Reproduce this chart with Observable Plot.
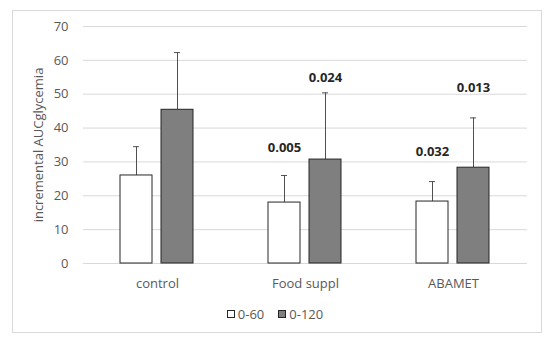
<!DOCTYPE html>
<html><head><meta charset="utf-8">
<script src="https://cdn.jsdelivr.net/npm/d3@7"></script>
<script src="https://cdn.jsdelivr.net/npm/@observablehq/plot@0.6"></script>
<style>
body{margin:0;background:#fff;font-family:"Open Sans",sans-serif;}
#frame{position:absolute;left:12px;top:10px;width:530px;height:323px;border:1px solid #d9d9d9;box-sizing:border-box;}
#chart{position:absolute;left:0;top:0;}
#legend{position:absolute;top:305px;left:0;width:550px;display:flex;justify-content:center;gap:14px;font-size:13px;color:#595959;}
#legend span.item{display:flex;align-items:center;gap:3px;}
#legend span.sw{display:inline-block;width:6px;height:6px;border:1px solid #262626;}
</style></head>
<body>
<div id="frame"></div>
<div id="chart"></div>
<div id="legend"></div>
<script>
const categories = ["control", "Food suppl", "ABAMET"];
const series = ["0-60", "0-120"];
const colors = ["#ffffff", "#7f7f7f"];
const means60 = [26.0, 18.0, 18.3];
const means120 = [45.4, 30.7, 28.3];
const sd60 = [8.5, 8.0, 5.9];
const sd120 = [16.9, 19.7, 14.7];
const p60 = ["", "0.005", "0.032"];
const p120 = ["", "0.024", "0.013"];
const pY60 = [null, 34.3, 33.1];
const pY120 = [null, 54.9, 52.0];
const yTicks = [0, 10, 20, 30, 40, 50, 60, 70];

const data = categories.flatMap((c, i) => [
  {cat: c, series: series[0], mean: means60[i], top: means60[i] + sd60[i], p: p60[i], py: pY60[i]},
  {cat: c, series: series[1], mean: means120[i], top: means120[i] + sd120[i], p: p120[i], py: pY120[i]}
]);

const chart = Plot.plot({
  width: 550, height: 300,
  marginTop: 26, marginBottom: 37, marginLeft: 83, marginRight: 23,
  style: {fontFamily: "'Open Sans', sans-serif", fontSize: "13px", color: "#595959", background: "transparent"},
  fx: {domain: categories, padding: 0, label: null, axis: "bottom", tickSize: 0, tickPadding: 15},
  x: {domain: series, paddingInner: 0.214, paddingOuter: 0.869, axis: null},
  y: {domain: [0, 70], axis: null},
  color: {domain: series, range: colors},
  marks: [
    Plot.gridY(yTicks, {stroke: "#d9d9d9", strokeOpacity: 1}),
    Plot.axisY(yTicks, {tickSize: 0, tickPadding: 15, label: "incremental AUCglycemia", labelArrow: "none", labelAnchor: "center", labelOffset: 50, fill: "#595959"}),
    Plot.ruleX(data, {fx: "cat", x: "series", y1: "mean", y2: "top", stroke: "#505050"}),
    Plot.tickY(data, {fx: "cat", x: "series", y: "top", stroke: "#505050", insetLeft: 13, insetRight: 13}),
    Plot.barY(data, {fx: "cat", x: "series", y: "mean", fill: "series", stroke: "#262626"}),
    Plot.text(data.filter(d => d.p), {fx: "cat", x: "series", y: "py", text: "p", fontWeight: "bold", fill: "#262626", fontSize: 13})
  ]
});
document.getElementById("chart").appendChild(chart);

const legend = document.getElementById("legend");
series.forEach((s, i) => {
  const item = document.createElement("span");
  item.className = "item";
  const sw = document.createElement("span");
  sw.className = "sw";
  sw.style.background = colors[i];
  item.appendChild(sw);
  item.appendChild(document.createTextNode(s));
  legend.appendChild(item);
});
</script>
</body></html>
